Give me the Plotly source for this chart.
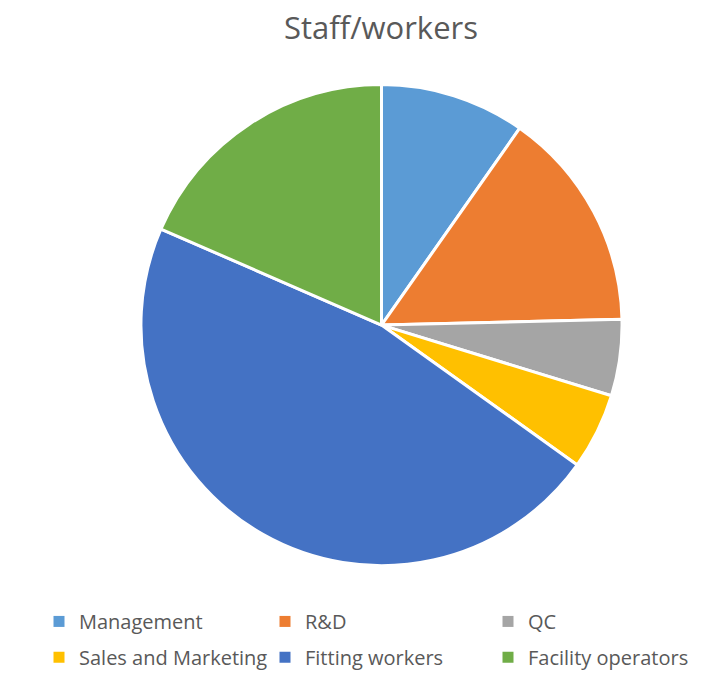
import plotly.graph_objects as go

categories = ["Management", "R&D", "QC", "Sales and Marketing", "Fitting workers", "Facility operators"]
values = [19, 29, 10, 10, 91, 36]
colors = ["#5B9BD5", "#ED7D31", "#A5A5A5", "#FFC000", "#4472C4", "#70AD47"]

# page body has an 8px margin, so the figure is laid out in shifted coordinates
OFF = 8
W, H = 717 - OFF, 677 - OFF


def px_x(x):
    return (x - OFF) / W


def px_y(y):
    return 1 - (y - OFF) / H


fig = go.Figure()
fig.add_trace(go.Pie(
    labels=categories,
    values=values,
    sort=False,
    direction="clockwise",
    rotation=0,
    textinfo="none",
    showlegend=False,
    marker=dict(colors=colors, line=dict(color="white", width=3)),
    domain=dict(x=[px_x(139.5), px_x(623.5)], y=[px_y(569), px_y(85)]),
))

# legend grid: 2 rows x 3 columns, one legend per entry for exact placement
col_left = [39, 265, 488]      # screen x of each legend box's left edge
row_top = [605.5, 641.5]       # screen y of each legend box's top edge

layout_legends = {}
for i, (cat, col) in enumerate(zip(categories, colors)):
    name = "legend" if i == 0 else f"legend{i + 1}"
    fig.add_trace(go.Scatter(
        x=[None], y=[None], mode="markers", name=cat,
        marker=dict(symbol="square", size=11, color=col),
        legend=name,
        hoverinfo="skip",
    ))
    r, c = divmod(i, 3)
    layout_legends[name] = dict(
        x=px_x(col_left[c]), y=px_y(row_top[r]), xanchor="left", yanchor="top",
        orientation="h", font=dict(size=20, color="#595959"),
        bgcolor="rgba(0,0,0,0)",
    )

fig.update_layout(
    width=W, height=H,
    margin=dict(l=0, r=0, t=0, b=0),
    paper_bgcolor="white",
    plot_bgcolor="white",
    font=dict(family="Open Sans, Liberation Sans, sans-serif", color="#595959"),
    title=dict(text="Staff/workers", x=px_x(381), xanchor="center", y=px_y(17), yanchor="top",
               font=dict(size=31, color="#595959")),
    showlegend=True,
    xaxis=dict(visible=False),
    yaxis=dict(visible=False),
    **layout_legends,
)

fig.write_html("out.html")
